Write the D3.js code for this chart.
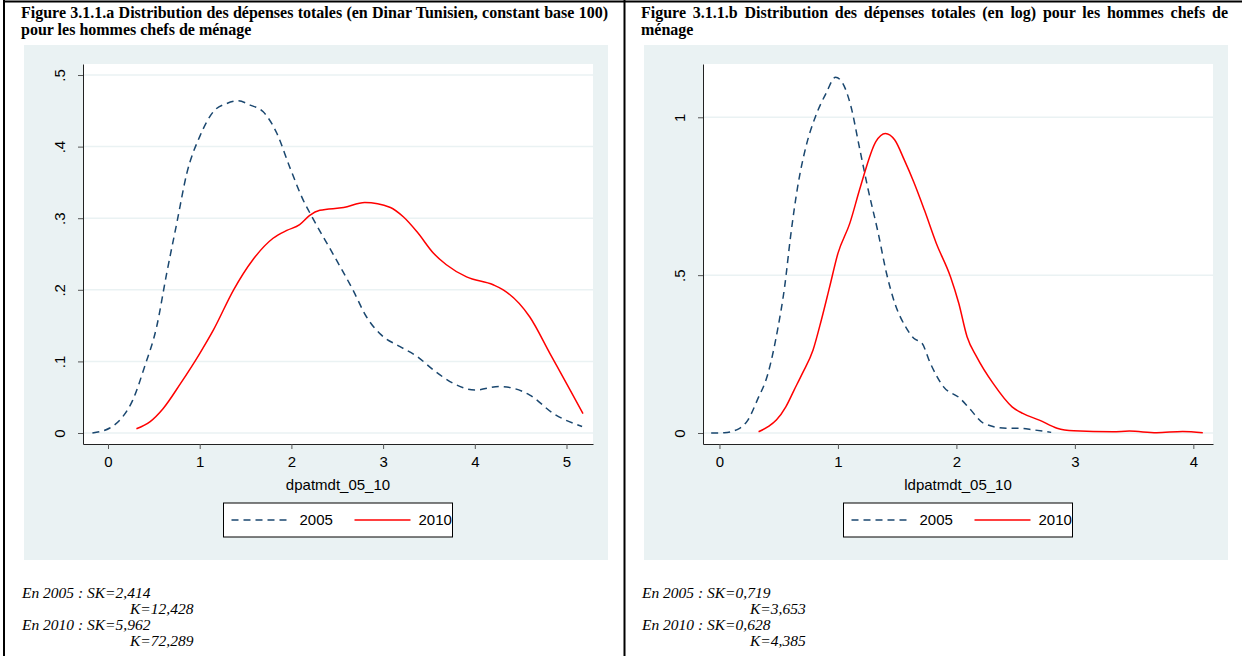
<!DOCTYPE html>
<html>
<head>
<meta charset="utf-8">
<script src="https://cdn.jsdelivr.net/npm/d3@7"></script>
<style>
  body { margin: 0; background: #fff; }
  svg { display: block; }
</style>
</head>
<body>
<svg id="chart" width="1242" height="656"></svg>
<script>
// textes
const titleA = ["Figure 3.1.1.a Distribution des dépenses totales (en Dinar Tunisien, constant base 100)",
                "pour les hommes chefs de ménage"];
const titleB = ["Figure 3.1.1.b Distribution des dépenses totales (en log) pour les hommes chefs de",
                "ménage"];
const xTitleA = "dpatmdt_05_10";
const xTitleB = "ldpatmdt_05_10";
const seriesNames = ["2005", "2010"];
const statsA = [["En 2005 : SK=2,414", "K=12,428"], ["En 2010 : SK=5,962", "K=72,289"]];
const statsB = [["En 2005 : SK=0,719", "K=3,653"], ["En 2010 : SK=0,628", "K=4,385"]];

// axes
const xTicksA = [0, 1, 2, 3, 4, 5];
const yTicksA = [0, .1, .2, .3, .4, .5];
const yLabelsA = ["0", ".1", ".2", ".3", ".4", ".5"];
const xTicksB = [0, 1, 2, 3, 4];
const yTicksB = [0, .5, 1];
const yLabelsB = ["0", ".5", "1"];

// densités (x, densité)
const densA2005 = [[-0.17,0.000],[0.02,0.007],[0.15,0.021],[0.27,0.046],[0.40,0.093],[0.53,0.148],[0.64,0.223],
  [0.75,0.293],[0.86,0.363],[1.00,0.414],[1.15,0.449],[1.29,0.460],[1.42,0.464],[1.55,0.458],[1.69,0.449],
  [1.84,0.419],[1.98,0.372],[2.13,0.325],[2.22,0.303],[2.45,0.251],[2.67,0.200],[2.82,0.162],[2.98,0.137],
  [3.18,0.121],[3.37,0.107],[3.55,0.088],[3.77,0.069],[4.00,0.060],[4.27,0.065],[4.60,0.053],[4.86,0.027],[5.17,0.009]];
const densA2010 = [[0.31,0.006],[0.46,0.016],[0.60,0.034],[0.79,0.069],[1.00,0.111],[1.15,0.144],[1.37,0.200],
  [1.58,0.242],[1.80,0.272],[1.95,0.283],[2.09,0.291],[2.20,0.304],[2.31,0.311],[2.57,0.315],[2.80,0.322],
  [3.08,0.315],[3.22,0.302],[3.37,0.281],[3.55,0.251],[3.69,0.235],[3.91,0.218],[4.20,0.207],[4.31,0.200],
  [4.60,0.162],[4.82,0.111],[5.04,0.060],[5.18,0.027]];
const densB2005 = [[-0.07,0.000],[0.04,0.001],[0.17,0.015],[0.24,0.041],[0.32,0.105],[0.41,0.189],[0.49,0.326],
  [0.55,0.463],[0.60,0.622],[0.66,0.780],[0.73,0.907],[0.81,1.002],[0.90,1.076],[0.98,1.127],[1.04,1.108],
  [1.11,1.034],[1.18,0.907],[1.25,0.780],[1.34,0.633],[1.41,0.506],[1.48,0.411],[1.57,0.337],[1.64,0.300],
  [1.71,0.284],[1.78,0.221],[1.89,0.147],[2.03,0.110],[2.11,0.078],[2.23,0.031],[2.42,0.015],[2.54,0.015],
  [2.65,0.010],[2.80,0.002]];
const densB2010 = [[0.33,0.004],[0.41,0.020],[0.48,0.041],[0.56,0.083],[0.63,0.136],[0.70,0.189],[0.79,0.263],
  [0.86,0.358],[0.93,0.463],[1.00,0.569],[1.10,0.664],[1.19,0.780],[1.32,0.923],[1.40,0.949],[1.48,0.928],
  [1.56,0.865],[1.64,0.795],[1.73,0.706],[1.83,0.601],[1.95,0.495],[2.02,0.411],[2.09,0.305],[2.17,0.242],
  [2.31,0.157],[2.47,0.083],[2.56,0.062],[2.70,0.041],[2.85,0.015],[2.99,0.007],[3.32,0.004],[3.46,0.006],
  [3.69,0.001],[3.91,0.005],[4.08,0.001]];

const NAVY = "#1a476f", RED = "#ff0000", BG = "#eaf2f3";
const svg = d3.select("#chart");
svg.append("rect").attr("width", 1242).attr("height", 656).attr("fill", "#fff");

// tableau du document
svg.append("line").attr("x1", 3).attr("x2", 1242).attr("y1", 1.5).attr("y2", 1.5)
  .attr("stroke", "#000").attr("stroke-width", 2);
svg.append("line").attr("x1", 4).attr("x2", 4).attr("y1", 0).attr("y2", 656)
  .attr("stroke", "#000").attr("stroke-width", 2);
svg.append("line").attr("x1", 624.5).attr("x2", 624.5).attr("y1", 0).attr("y2", 656)
  .attr("stroke", "#000").attr("stroke-width", 2);

function justify(sel, width) {
  const node = sel.node();
  const len = node.getComputedTextLength();
  const n = sel.text().split(" ").length - 1;
  if (n > 0) sel.attr("word-spacing", (width - len) / n);
}

function drawPanel(cfg) {
  const g = svg.append("g").attr("transform", `translate(${cfg.dx},0)`);

  // titre
  const t1 = g.append("text").attr("x", 21).attr("y", 18)
    .attr("font-family", "Liberation Serif, Times New Roman, serif")
    .attr("font-weight", "bold").attr("font-size", 16).text(cfg.title[0]);
  justify(t1, 587);
  g.append("text").attr("x", 21).attr("y", 35)
    .attr("font-family", "Liberation Serif, Times New Roman, serif")
    .attr("font-weight", "bold").attr("font-size", 16).text(cfg.title[1]);

  // fond du graphique
  g.append("rect").attr("x", 24).attr("y", 45).attr("width", 584).attr("height", 515).attr("fill", BG);

  const left = 83, right = 593, top = 64, bottom = 444;
  g.append("rect").attr("x", left).attr("y", top).attr("width", right - left).attr("height", bottom - top)
    .attr("fill", "#fff");

  const x = d3.scaleLinear().domain(cfg.xDomain).range([left, right]);
  const y = d3.scaleLinear().domain(cfg.yDomain).range([bottom, top]);

  // grille
  g.append("g").selectAll("line").data(cfg.yTicks).join("line")
    .attr("x1", left).attr("x2", right)
    .attr("y1", d => y(d)).attr("y2", d => y(d))
    .attr("stroke", BG).attr("stroke-width", 1.5);

  const font = "Liberation Sans, Arial, Helvetica, sans-serif";

  const xAxis = g.append("g").attr("transform", `translate(0,${bottom})`)
    .call(d3.axisBottom(x).tickValues(cfg.xTicks).tickFormat(d3.format("d")).tickSize(5).tickSizeOuter(0));
  xAxis.select(".domain").attr("stroke", "#222");
  xAxis.selectAll(".tick line").attr("stroke", "#555");
  xAxis.selectAll(".tick text").attr("y", 12).attr("font-family", font).attr("font-size", 15).attr("fill", "#000");

  const yAxis = g.append("g").attr("transform", `translate(${left},0)`)
    .call(d3.axisLeft(y).tickValues(cfg.yTicks).tickFormat((d, i) => cfg.yLabels[i]).tickSize(5).tickSizeOuter(0));
  yAxis.select(".domain").attr("stroke", "#222");
  yAxis.selectAll(".tick line").attr("stroke", "#555");
  yAxis.selectAll(".tick text")
    .attr("transform", "rotate(-90)")
    .attr("x", 0).attr("y", -18).attr("dy", 0)
    .attr("text-anchor", "middle")
    .attr("font-family", font).attr("font-size", 15).attr("fill", "#000");

  g.append("text").attr("x", (left + right) / 2).attr("y", 490).attr("text-anchor", "middle")
    .attr("font-family", font).attr("font-size", 15).text(cfg.xTitle);

  const line = d3.line().x(d => x(d[0])).y(d => y(d[1])).curve(d3.curveMonotoneX);
  g.append("path").datum(cfg.d2005).attr("d", line).attr("fill", "none")
    .attr("stroke", NAVY).attr("stroke-width", 1.5).attr("stroke-dasharray", "7,5");
  g.append("path").datum(cfg.d2010).attr("d", line).attr("fill", "none")
    .attr("stroke", RED).attr("stroke-width", 1.5);

  // légende
  const lx = (left + right) / 2 - 114.5, ly = 503;
  const leg = g.append("g").attr("transform", `translate(${lx},${ly})`);
  leg.append("rect").attr("width", 229).attr("height", 34).attr("fill", "#fff")
    .attr("stroke", "#000").attr("stroke-width", 1);
  leg.append("line").attr("x1", 8).attr("x2", 66).attr("y1", 17).attr("y2", 17)
    .attr("stroke", NAVY).attr("stroke-width", 1.5).attr("stroke-dasharray", "7,5");
  leg.append("text").attr("x", 76).attr("y", 22).attr("font-family", font).attr("font-size", 15)
    .text(seriesNames[0]);
  leg.append("line").attr("x1", 131).attr("x2", 187).attr("y1", 17).attr("y2", 17)
    .attr("stroke", RED).attr("stroke-width", 1.5);
  leg.append("text").attr("x", 195).attr("y", 22).attr("font-family", font).attr("font-size", 15)
    .text(seriesNames[1]);

  // statistiques
  cfg.stats.forEach((s, i) => {
    g.append("text").attr("x", 22).attr("y", 598 + i * 32)
      .attr("font-family", "Liberation Serif, Times New Roman, serif").attr("font-style", "italic")
      .attr("font-size", 15.5).text(s[0]);
    g.append("text").attr("x", 130).attr("y", 614 + i * 32)
      .attr("font-family", "Liberation Serif, Times New Roman, serif").attr("font-style", "italic")
      .attr("font-size", 15.5).text(s[1]);
  });
}

drawPanel({
  dx: 0, title: titleA, xTitle: xTitleA,
  xDomain: [-0.2726, 5.289], yDomain: [-0.01536, 0.5154],
  xTicks: xTicksA, yTicks: yTicksA, yLabels: yLabelsA,
  d2005: densA2005, d2010: densA2010, stats: statsA
});
drawPanel({
  dx: 620, title: titleB, xTitle: xTitleB,
  xDomain: [-0.139, 4.166], yDomain: [-0.0348, 1.1688],
  xTicks: xTicksB, yTicks: yTicksB, yLabels: yLabelsB,
  d2005: densB2005, d2010: densB2010, stats: statsB
});
</script>
</body>
</html>
